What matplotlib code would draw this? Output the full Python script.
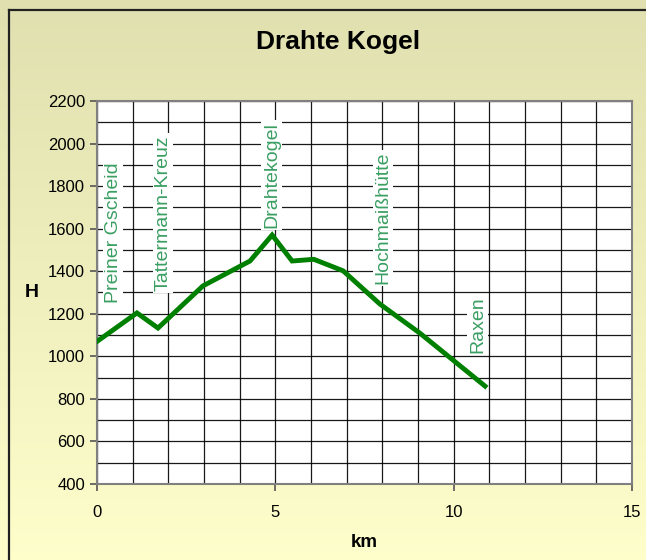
import matplotlib
matplotlib.use('Agg')

import numpy as np
import matplotlib.pyplot as plt
from matplotlib.lines import Line2D

plt.rcParams['font.family'] = ['Liberation Sans', 'DejaVu Sans']

# profile of the route (km, height)
km = [0.0, 1.12, 1.71, 2.97, 4.29, 4.91, 5.47, 6.08, 6.9, 7.93, 9.06, 10.88]
height = [1070, 1204, 1133, 1331, 1448, 1570, 1448, 1456, 1402, 1246, 1108, 860]

# place names, placed above the line
names = ["Preiner Gscheid", "Tattermann-Kreuz", "Drahtekogel", "Hochmaißhütte", "Raxen"]
name_km = [0.45, 1.85, 4.9, 8.02, 10.68]
name_h = [1582, 1674, 1852, 1650, 1147]

LINE_GREEN = '#008000'
TEXT_GREEN = '#3a9e62'

fig = plt.figure(figsize=(6.46, 5.6), dpi=100)
fig.patch.set_facecolor('#efefbd')

# yellowish gradient background (extent a bit larger than the figure)
bg = fig.add_axes([0, 0, 1, 1], zorder=-10)
grad = np.linspace(0, 1, 256).reshape(-1, 1)
top = np.array([0xdf, 0xdf, 0xaf]) / 255.0
bottom = np.array([0xff, 0xff, 0xcc]) / 255.0
img = top + (bottom - top) * grad[:, :, None]
bg.imshow(img, aspect='auto', extent=[-0.05, 1.05, -0.02, 1.02])
bg.set_xlim(0, 1)
bg.set_ylim(0, 1)
bg.set_axis_off()

# chart border: only top and left edges are visible
bx, by = 9 / 646, 1 - 10 / 560
fig.lines.append(Line2D([bx, 1.0], [by, by], transform=fig.transFigure,
                        color='#222222', lw=1.6))
fig.lines.append(Line2D([bx, bx], [0.0, by], transform=fig.transFigure,
                        color='#222222', lw=1.6))

ax = fig.add_axes([97 / 646, 1 - 484 / 560, (632 - 97) / 646, (484 - 101) / 560])
ax.set_facecolor('white')

ax.plot(km, height, color=LINE_GREEN, lw=3.5, solid_joinstyle='miter', zorder=3)

for name, x, y in zip(names, name_km, name_h):
    ax.text(x, y, name, rotation=90, ha='center', va='center', fontsize=14,
            color=TEXT_GREEN, zorder=4,
            bbox=dict(boxstyle='square,pad=0.1', facecolor='white', edgecolor='none'))

ax.set_xlim(0, 15)
ax.set_ylim(400, 2200)
ax.set_xticks([0, 5, 10, 15])
ax.set_yticks(range(400, 2201, 200))
ax.set_xticks(range(0, 16), minor=True)
ax.set_yticks(range(400, 2201, 100), minor=True)
ax.grid(True, which='both', color='black', lw=0.9, alpha=0.9, zorder=1)
ax.set_axisbelow(True)

ax.tick_params(axis='both', which='major', labelsize=12, length=5, width=1.2, color='#555555')
ax.tick_params(axis='both', which='minor', length=0)
ax.tick_params(axis='x', pad=10)
for side in ['left', 'bottom', 'right', 'top']:
    ax.spines[side].set_color('#808080')
    ax.spines[side].set_linewidth(1.5)

ax.set_xlabel('km', fontsize=13.5, fontweight='bold', labelpad=10)
ax.set_ylabel('H', fontsize=14, fontweight='bold', rotation=0, labelpad=12, va='center')

fig.text(338 / 646, 1 - 42 / 560, 'Drahte Kogel', ha='center', va='center',
         fontsize=19, fontweight='bold')

fig.savefig('out.png', dpi=100)
